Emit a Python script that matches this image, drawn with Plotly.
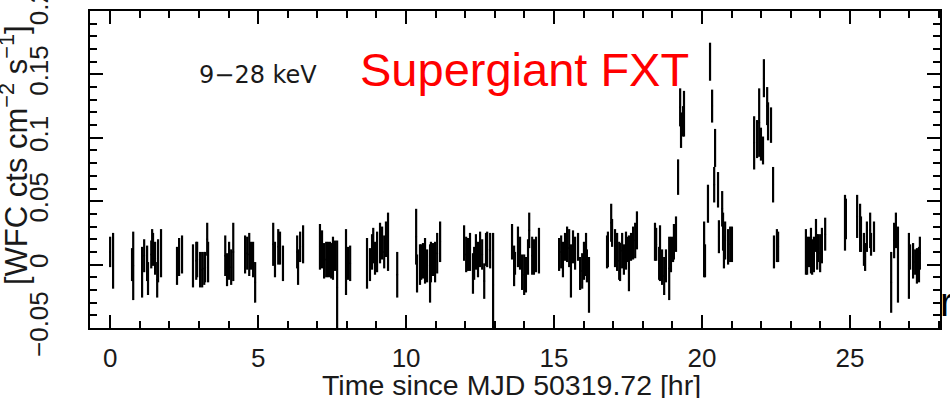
import plotly.graph_objects as go

# Time since MJD 50319.72 [hr]
time_hr = [
    0.00, 0.10,
    0.74, 0.78, 1.08, 1.15, 1.25, 1.28, 1.39, 1.42, 1.45, 1.52, 1.59, 1.62, 1.72,
    2.26, 2.33, 2.43,
    2.80, 2.91, 2.94, 3.04, 3.11, 3.18, 3.21, 3.28, 3.31,
    3.89, 3.95, 4.02, 4.09, 4.16,
    4.56, 4.63, 4.70, 4.76, 4.83, 4.90,
    5.51, 5.57, 5.68, 5.74, 5.84,
    6.32, 6.35, 6.42, 6.52,
    7.09, 7.16, 7.23, 7.30, 7.36, 7.43, 7.47, 7.53, 7.60, 7.67,
    7.97, 8.04, 8.11,
    8.68, 8.78, 8.85, 8.89, 8.95, 9.02, 9.12, 9.19, 9.26, 9.32, 9.39,
    9.70,
    10.34, 10.37, 10.47, 10.51, 10.57, 10.64, 10.71, 10.81, 10.84, 10.91, 10.98, 11.05, 11.15,
    11.96, 12.03, 12.09, 12.16, 12.26, 12.30, 12.36, 12.43, 12.50, 12.57, 12.64, 12.70, 12.74, 12.84, 12.94,
    13.58, 13.65, 13.68, 13.78, 13.85, 13.92, 13.99, 14.05, 14.12, 14.16, 14.26, 14.32, 14.39, 14.49,
    15.17, 15.24, 15.30, 15.37, 15.44, 15.51, 15.57, 15.64, 15.71, 15.81, 15.88, 15.95, 16.01, 16.08, 16.11, 16.18,
    16.79, 16.82, 16.93, 16.96, 17.06, 17.13, 17.20, 17.23, 17.30, 17.36, 17.43, 17.50, 17.53, 17.60, 17.67, 17.74, 17.80,
    18.41, 18.45, 18.55, 18.58, 18.65, 18.72, 18.78, 18.89, 18.95, 19.02, 19.05, 19.12,
    19.19, 19.26, 19.29, 19.36, 19.39,
    20.07, 20.10, 20.20, 20.27, 20.34, 20.41, 20.44, 20.54, 20.57, 20.68, 20.71, 20.74, 20.78, 20.88, 20.95, 21.01,
    21.76, 21.86, 21.93, 21.99, 22.06, 22.09, 22.20, 22.23, 22.33, 22.40,
    22.43, 22.53, 22.57,
    23.51, 23.55, 23.61, 23.68, 23.72, 23.78, 23.85, 23.89, 23.92, 23.99, 24.05, 24.16,
    24.83, 24.86,
    25.24, 25.34, 25.37, 25.47, 25.51, 25.57, 25.68, 25.71, 25.81,
    26.39, 26.49, 26.55, 26.62,
    26.99, 27.03, 27.13, 27.20, 27.26, 27.33, 27.36,
]

# WFC count rate [cts cm^-2 s^-1]
rate = [
    0.010, 0.003,
    0.000, -0.001, -0.006, 0.007, 0.001, -0.011, 0.008, 0.015, 0.012, 0.005, -0.012, 0.003, 0.009,
    -0.001, 0.006, 0.008,
    -0.001, 0.003, 0.004, -0.004, -0.004, -0.003, -0.002, 0.020, 0.002,
    0.007, -0.004, 0.003, -0.002, 0.010,
    0.008, 0.009, 0.008, 0.007, 0.004, -0.014,
    0.016, 0.004, 0.014, 0.013, 0.001,
    0.010, -0.002, 0.014, 0.016,
    0.014, 0.012, 0.003, 0.004, 0.004, 0.004, 0.003, 0.005, 0.007, -0.018,
    0.002, 0.001, 0.001,
    0.001, 0.000, 0.010, 0.015, 0.005, 0.010, 0.017, 0.017, 0.010, 0.020, 0.018,
    -0.008,
    0.022, -0.007, 0.000, 0.002, 0.003, 0.003, -0.001, -0.007, 0.002, 0.004, 0.002, 0.009, 0.018,
    0.017, 0.008, 0.008, 0.010, -0.007, 0.001, 0.010, 0.004, 0.012, 0.008, -0.013, 0.012, 0.012, 0.011, -0.016,
    0.018, -0.001, 0.001, 0.014, 0.009, -0.006, -0.008, -0.008, 0.006, 0.027, 0.007, 0.006, 0.008, 0.011,
    0.008, 0.010, 0.004, 0.014, 0.016, 0.013, -0.005, 0.014, 0.009, 0.014, -0.007, -0.005, 0.003, 0.008, -0.001, -0.016,
    0.010, 0.012, 0.033, 0.025, 0.013, 0.010, 0.003, 0.002, 0.011, 0.004, 0.011, 0.012, 0.001, 0.014, 0.017, 0.019, 0.027,
    0.018, 0.016, 0.001, 0.009, -0.002, -0.009, -0.001, -0.003, 0.008, 0.012, 0.018, 0.024,
    0.069, 0.124, 0.106, 0.113, 0.119,
    0.012, 0.003, 0.048, 0.160, 0.125, 0.063, 0.092, 0.059, 0.022, 0.044, 0.026, 0.010, 0.019, 0.014, 0.016, 0.016,
    0.096, 0.099, 0.112, 0.095, 0.090, 0.147, 0.125, 0.113, 0.110, 0.063,
    0.010, 0.015, 0.014,
    0.010, 0.007, 0.010, 0.011, 0.006, 0.008, 0.023, 0.010, 0.013, 0.009, 0.015, 0.024,
    0.033, 0.036,
    0.038, 0.029, 0.024, 0.012, 0.006, 0.022, 0.027, 0.016, 0.022,
    -0.014, 0.019, 0.027, 0.000,
    -0.001, 0.006, 0.003, 0.002, -0.001, 0.000, 0.009,
]

# 1-sigma errors
rate_err = [
    0.012, 0.022,
    0.013, 0.027, 0.020, 0.013, 0.014, 0.013, 0.011, 0.013, 0.013, 0.013, 0.014, 0.017, 0.019,
    0.015, 0.015, 0.015,
    0.017, 0.015, 0.014, 0.014, 0.014, 0.013, 0.012, 0.013, 0.016,
    0.016, 0.013, 0.015, 0.014, 0.023,
    0.015, 0.013, 0.017, 0.011, 0.014, 0.016,
    0.017, 0.014, 0.014, 0.013, 0.014,
    0.013, 0.014, 0.012, 0.015,
    0.018, 0.015, 0.014, 0.014, 0.014, 0.014, 0.014, 0.017, 0.012, 0.037,
    0.026, 0.013, 0.014,
    0.020, 0.013, 0.014, 0.014, 0.013, 0.016, 0.016, 0.013, 0.013, 0.014, 0.023,
    0.018,
    0.022, 0.015, 0.016, 0.014, 0.014, 0.018, 0.013, 0.023, 0.016, 0.013, 0.016, 0.016, 0.016,
    0.014, 0.014, 0.013, 0.015, 0.016, 0.013, 0.014, 0.014, 0.014, 0.012, 0.014, 0.013, 0.014, 0.014, 0.041,
    0.014, 0.016, 0.009, 0.016, 0.013, 0.014, 0.016, 0.014, 0.014, 0.014, 0.015, 0.014, 0.014, 0.018,
    0.013, 0.013, 0.014, 0.011, 0.014, 0.015, 0.021, 0.013, 0.013, 0.011, 0.013, 0.014, 0.015, 0.017, 0.013, 0.022,
    0.013, 0.014, 0.015, 0.011, 0.015, 0.015, 0.015, 0.015, 0.014, 0.012, 0.015, 0.010, 0.022, 0.011, 0.013, 0.014, 0.015,
    0.015, 0.013, 0.013, 0.022, 0.014, 0.015, 0.013, 0.025, 0.014, 0.010, 0.014, 0.014,
    0.014, 0.015, 0.014, 0.012, 0.018,
    0.022, 0.013, 0.015, 0.015, 0.013, 0.014, 0.015, 0.014, 0.013, 0.014, 0.015, 0.013, 0.015, 0.014, 0.014, 0.014,
    0.021, 0.015, 0.027, 0.013, 0.011, 0.015, 0.015, 0.015, 0.014, 0.014,
    0.013, 0.013, 0.012,
    0.018, 0.015, 0.012, 0.018, 0.014, 0.014, 0.013, 0.014, 0.011, 0.015, 0.014, 0.013,
    0.022, 0.016,
    0.017, 0.019, 0.014, 0.013, 0.011, 0.012, 0.014, 0.009, 0.012,
    0.024, 0.014, 0.014, 0.030,
    0.026, 0.010, 0.014, 0.010, 0.014, 0.014, 0.013,
]

x_ticks = [0, 5, 10, 15, 20, 25]
y_ticks = [-0.05, 0, 0.05, 0.1, 0.15, 0.2]
y_tick_text = ["−0.05", "0", "0.05", "0.1", "0.15", "0.2"]

TXT = "#1a1a1a"
FONT = "Liberation Sans"

fig = go.Figure()
fig.add_trace(go.Scatter(
    x=time_hr, y=rate, mode="markers",
    marker=dict(size=2, color="black"),
    error_y=dict(type="data", array=rate_err, visible=True,
                 width=0, thickness=2.2, color="black"),
    showlegend=False, hoverinfo="skip",
))

axis_common = dict(
    showline=True, linecolor="black", linewidth=2, mirror="ticks",
    ticks="inside", ticklen=13, tickwidth=2, tickcolor="black",
    showgrid=False, zeroline=False,
    ticklabeloverflow="allow", automargin=False,
)

fig.update_xaxes(
    range=[-0.68, 28.04], tickvals=x_ticks,
    minor=dict(ticks="inside", dtick=1, ticklen=7, tickwidth=2, tickcolor="black", showgrid=False),
    ticklabelstandoff=6,
    tickfont=dict(family=FONT, size=26, color=TXT),
    **axis_common,
)
fig.update_yaxes(
    range=[-0.05, 0.2], tickvals=y_ticks, ticktext=y_tick_text, tickangle=-90,
    minor=dict(ticks="inside", dtick=0.01, ticklen=7, tickwidth=2, tickcolor="black", showgrid=False),
    ticklabelstandoff=30,
    tickfont=dict(family=FONT, size=26, color=TXT),
    **axis_common,
)

# plot area in pixels: x 90..940, y 11..328
def px(x):
    return (x - 90) / 850.0

def py(y):
    return (328 - y) / 317.0

annotations = [
    dict(text="Time since MJD 50319.72 [hr]", x=px(511), y=py(385), xref="paper", yref="paper",
         xanchor="center", yanchor="middle", showarrow=False,
         font=dict(family=FONT, size=28.5, color=TXT)),
    dict(text="[WFC cts cm<sup>−2</sup> s<sup>−1</sup>]", x=px(14), y=py(155), xref="paper", yref="paper",
         xanchor="center", yanchor="middle", textangle=-90, showarrow=False,
         font=dict(family=FONT, size=31, color=TXT)),
    dict(text="9−28 keV", x=px(258), y=py(75), xref="paper", yref="paper",
         xanchor="center", yanchor="middle", showarrow=False,
         font=dict(family="DejaVu Sans", size=24, color=TXT)),
    dict(text="Supergiant FXT", x=px(524), y=py(70), xref="paper", yref="paper",
         xanchor="center", yanchor="middle", showarrow=False,
         font=dict(family=FONT, size=47, color="#ff0000")),
    dict(text="r", x=px(938), y=py(302), xref="paper", yref="paper",
         xanchor="left", yanchor="middle", showarrow=False,
         font=dict(family=FONT, size=40, color="black")),
]

fig.update_layout(
    width=950, height=398,
    margin=dict(l=90, r=10, t=11, b=70),
    paper_bgcolor="white", plot_bgcolor="white",
    annotations=annotations,
)

fig.write_html("out.html")
